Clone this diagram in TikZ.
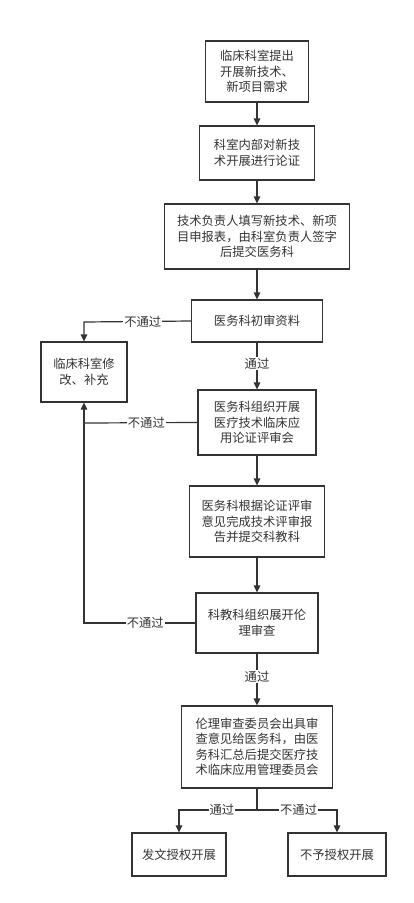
\documentclass[tikz,border=0pt]{standalone}
\usepackage{fontspec}
\setmainfont{Noto Sans CJK SC}
\usetikzlibrary{arrows.meta}
\definecolor{ln}{HTML}{333333}
\tikzset{
  box/.style={draw=ln, line width=1.2pt, fill=white, inner sep=0pt, align=center,
    text=ln, font=\fontsize{12.3}{15.5}\selectfont},
  conn/.style={draw=ln, line width=1.2pt, -{Triangle[length=7pt,width=6.5pt]}},
  plain/.style={draw=ln, line width=1.2pt},
  lab/.style={fill=white, inner sep=1pt, text=ln, font=\fontsize{12.3}{14}\selectfont}
}
\begin{document}
\begin{tikzpicture}[x=1pt,y=-1pt]
\useasboundingbox (0,0) rectangle (413,903);
\node[box, minimum width=103pt, minimum height=61pt] (b1) at (257,71.5) {临床科室提出\\开展新技术、\\新项目需求};
\node[box, minimum width=115pt, minimum height=54pt] (b2) at (257,153) {科室内部对新技\\术开展进行论证};
\node[box, minimum width=185pt, minimum height=65pt] (b3) at (257,236.5) {技术负责人填写新技术、新项\\目申报表，由科室负责人签字\\后提交医务科};
\node[box, minimum width=131pt, minimum height=42pt] (b4) at (257,321) {医务科初审资料};
\node[box, minimum width=86pt, minimum height=60pt] (L) at (84,372) {临床科室修\\改、补充};
\node[box, minimum width=118pt, minimum height=65pt] (b5) at (257,422.5) {医务科组织开展\\医疗技术临床应\\用论证评审会};
\node[box, minimum width=135pt, minimum height=71pt] (b6) at (257,521.5) {医务科根据论证评审\\意见完成技术评审报\\告并提交科教科};
\node[box, minimum width=122pt, minimum height=60pt] (b7) at (257,623) {科教科组织展开伦\\理审查};
\node[box, minimum width=151pt, minimum height=82pt] (b8) at (257,747) {伦理审查委员会出具审\\查意见给医务科，由医\\务科汇总后提交医疗技\\术临床应用管理委员会};
\node[box, minimum width=94pt, minimum height=43pt] (b9) at (179,854.5) {发文授权开展};
\node[box, minimum width=98pt, minimum height=43pt] (b10) at (337,854.5) {不予授权开展};

\coordinate (j4) at (84,322);
\coordinate (j5) at (84,423);
\coordinate (j7) at (84,623);
\coordinate (s8) at (257,810);
\coordinate (s9) at (179,810);
\coordinate (s10) at (337,810);

\path[conn] (b1) -- (b2);
\path[conn] (b2) -- (b3);
\path[conn] (b3) -- (b4);
\path[conn] (b4) -- node[lab, pos=0.45] {通过} (b5);
\path[conn] (b5) -- (b6);
\path[conn] (b6) -- (b7);
\path[conn] (b7) -- node[lab, pos=0.45] {通过} (b8);

\path[conn] (b4.west) -- node[lab, pos=0.45] {不通过} (j4) -- (L.north);
\path[plain] (b5.west) -- node[lab, pos=0.45] {不通过} (j5);
\path[conn] (b7.west) -- node[lab, pos=0.45] {不通过} (j7) -- (L.south);

\path[plain] (b8.south) -- (s8);
\path[conn] (s8) -- node[lab, pos=0.45] {通过} (s9) -- (b9.north);
\path[conn] (s8) -- node[lab, pos=0.52] {不通过} (s10) -- (b10.north);
\end{tikzpicture}
\end{document}
